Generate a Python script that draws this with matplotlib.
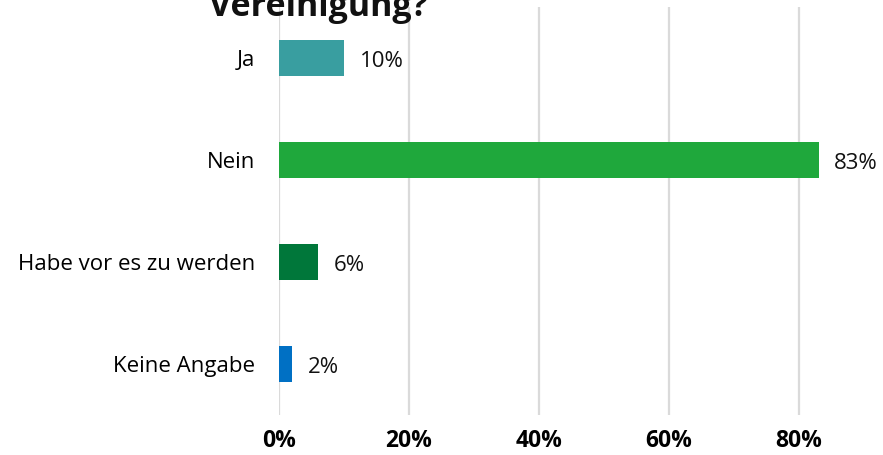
import matplotlib.pyplot as plt

# Chart data
categories = ['Ja', 'Nein', 'Habe vor es zu werden', 'Keine Angabe']
values = [10, 83, 6, 2]
bar_colors = ['#399EA0', '#1FA83C', '#00773A', '#0070C4']
x_ticks = [0, 20, 40, 60, 80]
x_tick_labels = ['0%', '20%', '40%', '60%', '80%']
title_tail = 'Vereinigung?'

plt.rcParams['font.family'] = ['Open Sans', 'DejaVu Sans']

fig = plt.figure(figsize=(8.83, 4.55), dpi=100)
ax = fig.add_axes([279 / 883, 1 - 415 / 455, 1 - 279 / 883 - 19 / 883, 408 / 455])

ypos = list(range(len(categories)))
ax.barh(ypos, values, height=0.35, color=bar_colors, zorder=3)

# Value labels next to the bars
for y, v in zip(ypos, values):
    ax.text(v + 2.4, y + 0.03, f'{v}%', va='center', ha='left', fontsize=16, color='#111111')

ax.set_xlim(0, 90)
ax.set_ylim(len(categories) - 0.5, -0.5)
ax.set_yticks(ypos)
ax.set_yticklabels(categories, fontsize=16)
ax.set_xticks(x_ticks)
ax.set_xticklabels(x_tick_labels, fontsize=16.5, fontweight='bold')
ax.tick_params(axis='y', length=0, pad=17)
ax.tick_params(axis='x', length=0, pad=10)

ax.grid(axis='x', color='#DADADA', linewidth=1.6, zorder=0)
ax.grid(axis='y', visible=False)
for spine in ax.spines.values():
    spine.set_visible(False)

# Title is cut off at the top of the image; only its last line shows
fig.text(318 / 883, 1 - 16 / 455, title_tail, ha='center', va='baseline',
         fontsize=24.5, fontweight='bold', color='#111111')

fig.savefig('out.png', dpi=100)
